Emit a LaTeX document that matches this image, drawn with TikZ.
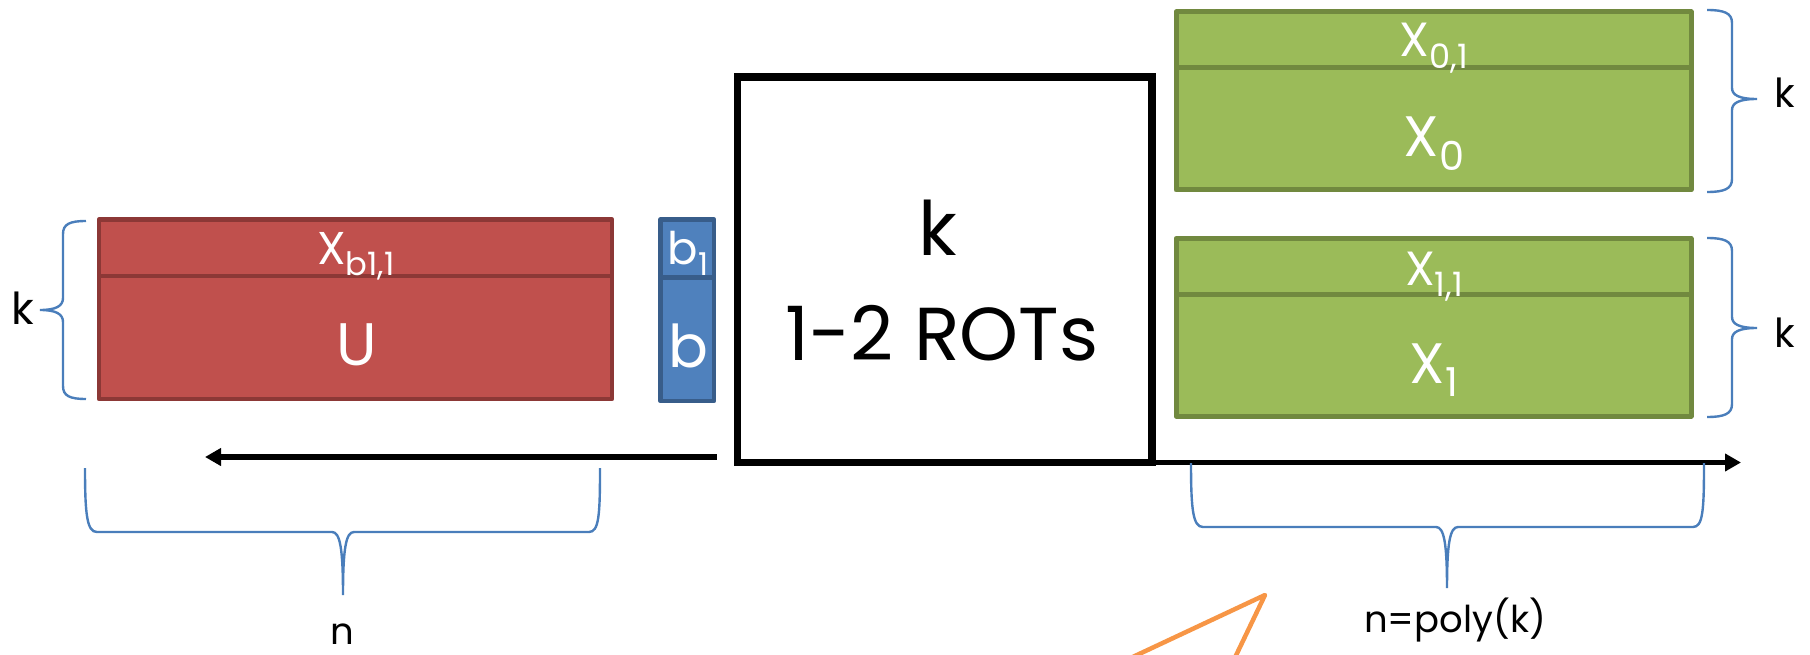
\documentclass[tikz,border=0pt]{standalone}
\usepackage{fontspec}
\setmainfont{Poppins}
\usepackage{graphicx}
\usepackage{xcolor}
\usepackage{tikz}
\usetikzlibrary{arrows.meta}
\definecolor{redfill}{HTML}{C0504D}
\definecolor{redline}{HTML}{8C3836}
\definecolor{bluefill}{HTML}{4F81BD}
\definecolor{blueline}{HTML}{385D8A}
\definecolor{greenfill}{HTML}{9BBB59}
\definecolor{greenline}{HTML}{71893F}
\definecolor{bracecol}{HTML}{4A7EBB}
\definecolor{pointer}{HTML}{F79646}
\newcommand{\lowsub}[1]{\raisebox{-.23em}{\scalebox{.7}{#1}}}
\newcommand{\fsize}[1]{\fontsize{#1}{#1}\selectfont}
\tikzstyle{redbox}=[draw=redline, fill=redfill, line width=4.5pt, line join=round]
\tikzstyle{bluebox}=[draw=blueline, fill=bluefill, line width=4.5pt, line join=round]
\tikzstyle{greenbox}=[draw=greenline, fill=greenfill, line width=5pt, line join=round]
\tikzstyle{otbox}=[rectangle, draw=black, line width=7.5pt,% the 1-2 ROT box
minimum width=414.5pt, minimum height=385.5pt]
\tikzstyle{intext}=[text=white, anchor=base, inner sep=0pt]
\tikzstyle{outtext}=[text=black, anchor=base, inner sep=0pt]
\tikzstyle{bracket}=[draw=bracecol, line width=2.4pt]
\tikzstyle{bigarrow}=[-{Triangle[length=16pt,width=17pt]}, line width=5.5pt]

\begin{document}
\begin{tikzpicture}[x=1pt, y=-1pt]
\useasboundingbox (0,0) rectangle (1810,655);
% receiver side
\draw[redbox] (99,219.5) rectangle (612,399);
\draw[redbox] (99,276) -- (612,276);
\draw[bluebox] (660.5,219.5) rectangle (714,401);
\draw[bluebox] (660.5,277.5) -- (714,277.5);
% sender side
\draw[greenbox] (1176,12) rectangle (1691,190);
\draw[greenbox] (1176,67.5) -- (1691,67.5);
\draw[greenbox] (1176,238.5) rectangle (1691,416);
\draw[greenbox] (1176,294.5) -- (1691,294.5);
\node[otbox] (ot) at (944.75,269.75) {};
\node[outtext, font=\fsize{75}] (otk) at (938,255) {k};
\node[outtext, font=\fsize{75}] (otname) at (942,360) {1-2 ROTs};
\node[intext, font=\fsize{46}] (xb) at (356,265) {X\lowsub{b1,1}};
\node[intext, font=\fsize{60}] (u) at (357,365) {U};
\node[intext, font=\fsize{45}] (bone) at (688,265) {b\lowsub{1}};
\node[intext, font=\fsize{59}] (b) at (688,367) {b};
\node[intext, font=\fsize{48}] (xzeroone) at (1434,57) {X\lowsub{0,1}};
\node[intext, font=\fsize{57}] (xzero) at (1434,157) {X\lowsub{0}};
\node[intext, font=\fsize{48}] (xoneone) at (1434,285) {X\lowsub{1,1}};
\node[intext, font=\fsize{57}] (xone) at (1434,383) {X\lowsub{1}};
% arrows out of the box
\coordinate (lefttip) at (205,457);
\coordinate (righttip) at (1741,462.5);
\draw[bigarrow] ([xshift=-17pt]ot.west |- lefttip) -- (lefttip);
\draw[bigarrow] (ot.east |- righttip) -- (righttip);
% braces
\draw[bracket] (86,221) .. controls (70,221) and (63,224) .. (63,234) -- (63,298)
  .. controls (63,306) and (56,310) .. (40,310) .. controls (56,310) and (63,314) .. (63,322)
  -- (63,386) .. controls (63,396) and (70,399) .. (86,399);
\draw[bracket] (1707,10) .. controls (1724,10) and (1732,13) .. (1732,23) -- (1732,88)
  .. controls (1732,95) and (1739,99) .. (1757,99) .. controls (1739,99) and (1732,103) .. (1732,110)
  -- (1732,179) .. controls (1732,189) and (1724,192) .. (1707,192);
\draw[bracket] (1707,238) .. controls (1724,238) and (1732,241) .. (1732,251) -- (1732,317)
  .. controls (1732,324) and (1739,328) .. (1757,328) .. controls (1739,328) and (1732,332) .. (1732,339)
  -- (1732,404) .. controls (1732,414) and (1724,417) .. (1707,417);
\draw[bracket] (85,468) .. controls (85,515) and (87,532) .. (97,532) -- (332,532)
  .. controls (340,532) and (343,548) .. (343,595) .. controls (343,548) and (346,532) .. (354,532)
  -- (589,532) .. controls (599,532) and (600,515) .. (600,468);
\draw[bracket] (1191,463) .. controls (1191,510) and (1193,527) .. (1203,527) -- (1436,527)
  .. controls (1444,527) and (1447,543) .. (1447,588) .. controls (1447,543) and (1450,527) .. (1458,527)
  -- (1693,527) .. controls (1703,527) and (1704,510) .. (1704,463);
\node[outtext, font=\fsize{44}] (kleft) at (23,324) {k};
\node[outtext, font=\fsize{40}] (ktop) at (1785,108) {k};
\node[outtext, font=\fsize{40}] (kbottom) at (1785,347) {k};
\node[outtext, font=\fsize{37}] (n) at (342,644) {n};
\node[outtext, font=\fsize{37}] (npoly) at (1455,632) {n=poly(k)};
% pointer coming up from below
\draw[pointer, line width=4.5pt, line join=round] (1105,670) -- (1265,595) -- (1229,670);
\end{tikzpicture}
\end{document}
